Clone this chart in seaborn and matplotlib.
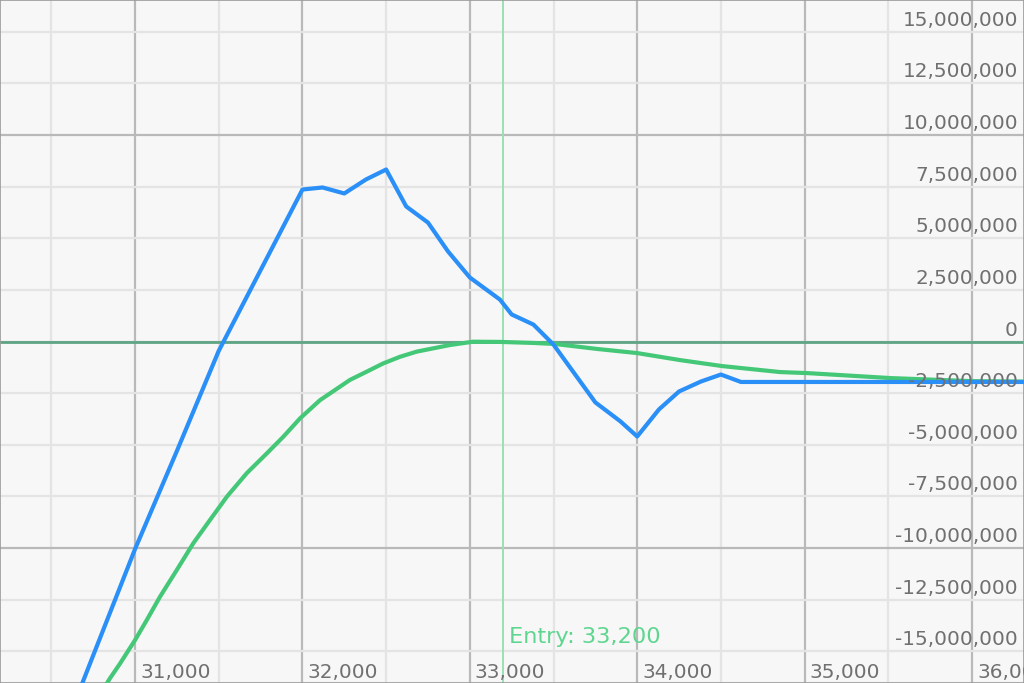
import matplotlib
matplotlib.use("Agg")
import matplotlib.pyplot as plt
import seaborn as sns
import pandas as pd
from matplotlib.transforms import offset_copy

# ---- data ----
expiry_price = [30600, 30750, 31000, 31250, 31500, 32000, 32120, 32250, 32380, 32500,
                32620, 32750, 32870, 33000, 33180, 33250, 33380, 33500, 33750, 33900,
                34000, 34130, 34250, 34380, 34500, 34620, 36400]
expiry_pnl = [-18.3e6, -15.2e6, -10.05e6, -5.3e6, -0.45e6, 7.36e6, 7.46e6, 7.17e6, 7.85e6, 8.33e6,
              6.54e6, 5.76e6, 4.36e6, 3.10e6, 2.03e6, 1.31e6, 0.82e6, -0.15e6, -2.95e6, -3.87e6,
              -4.60e6, -3.29e6, -2.42e6, -1.94e6, -1.60e6, -1.96e6, -1.96e6]

now_price = [30790, 30851, 30910, 31000, 31070, 31149, 31249, 31348, 31448, 31548,
             31667, 31787, 31886, 31986, 32105, 32284, 32384, 32483, 32583, 32683,
             32782, 32882, 33019, 33181, 33378, 33509, 33760, 33999, 34256, 34507,
             34853, 35015, 35510, 36000, 36400]
now_pnl = [-17.1e6, -16.3e6, -15.6e6, -14.46e6, -13.49e6, -12.36e6, -11.07e6, -9.77e6, -8.64e6, -7.52e6,
           -6.38e6, -5.42e6, -4.61e6, -3.72e6, -2.84e6, -1.86e6, -1.46e6, -1.06e6, -0.74e6, -0.49e6,
           -0.33e6, -0.17e6, -0.01e6, -0.02e6, -0.07e6, -0.12e6, -0.36e6, -0.56e6, -0.90e6, -1.19e6,
           -1.48e6, -1.53e6, -1.77e6, -1.92e6, -1.95e6]

entry_price = 33200
entry_label = "Entry: 33,200"

x_ticks = [31000, 32000, 33000, 34000, 35000, 36000]
x_tick_labels = ["31,000", "32,000", "33,000", "34,000", "35,000", "36,000"]
x_minor = [30500, 31500, 32500, 33500, 34500, 35500]

y_ticks = [15e6, 12.5e6, 10e6, 7.5e6, 5e6, 2.5e6, 0, -2.5e6, -5e6, -7.5e6, -10e6, -12.5e6, -15e6]
y_tick_labels = ["15,000,000", "12,500,000", "10,000,000", "7,500,000", "5,000,000", "2,500,000", "0",
                 "-2,500,000", "-5,000,000", "-7,500,000", "-10,000,000", "-12,500,000", "-15,000,000"]
y_major = [-10e6, 0, 10e6]

# ---- figure ----
sns.set_style("white")
plt.rcParams["font.family"] = ["DejaVu Sans"]

fig = plt.figure(figsize=(10.24, 6.83), dpi=100)
ax = fig.add_axes([0, 0, 1, 1])
ax.set_facecolor("#f7f7f7")
fig.patch.set_facecolor("#f7f7f7")

ax.set_xlim(30193, 36311)
ax.set_ylim(-16.54e6, 16.54e6)

ax.set_xticks(x_ticks)
ax.set_xticks(x_minor, minor=True)
ax.set_yticks(y_major)
ax.set_yticks(y_ticks, minor=True)
ax.grid(which="major", color="#b9b9b9", lw=1.6, zorder=0)
ax.grid(which="minor", color="#e4e4e4", lw=1.6, zorder=0)
ax.set_axisbelow(True)
ax.tick_params(which="both", length=0, labelbottom=False, labelleft=False)

for s in ax.spines.values():
    s.set_color("#9a9a9a")
    s.set_linewidth(1.2)

ax.axhline(0, color="#5fa585", lw=2.0, zorder=1)
ax.axvline(entry_price, color="#98e2b4", lw=1.4, zorder=1)

df_now = pd.DataFrame({"price": now_price, "pnl": now_pnl})
df_exp = pd.DataFrame({"price": expiry_price, "pnl": expiry_pnl})
sns.lineplot(data=df_now, x="price", y="pnl", ax=ax, color="#44c878", lw=3.0, sort=False, zorder=3)
sns.lineplot(data=df_exp, x="price", y="pnl", ax=ax, color="#2a8ff7", lw=3.0, sort=False, zorder=4)
ax.set_xlabel("")
ax.set_ylabel("")

label_color = "#707070"
ytrans = offset_copy(ax.get_yaxis_transform(), fig=fig, x=-6, y=6, units="dots")
for v, lab in zip(y_ticks, y_tick_labels):
    ax.text(1, v, lab, transform=ytrans, ha="right", va="baseline",
            fontsize=14.4, color=label_color, zorder=5)

xtrans = offset_copy(ax.get_xaxis_transform(), fig=fig, x=5, y=5, units="dots")
for v, lab in zip(x_ticks, x_tick_labels):
    ax.text(v, 0, lab, transform=xtrans, ha="left", va="baseline",
            fontsize=14.4, color=label_color, zorder=5)

etrans = offset_copy(ax.get_xaxis_transform(), fig=fig, x=6, y=40, units="dots")
ax.text(entry_price, 0, entry_label, transform=etrans, ha="left", va="baseline",
        fontsize=16.2, color="#5fd690", zorder=5)

fig.savefig("out.png", dpi=100, facecolor=fig.get_facecolor())
